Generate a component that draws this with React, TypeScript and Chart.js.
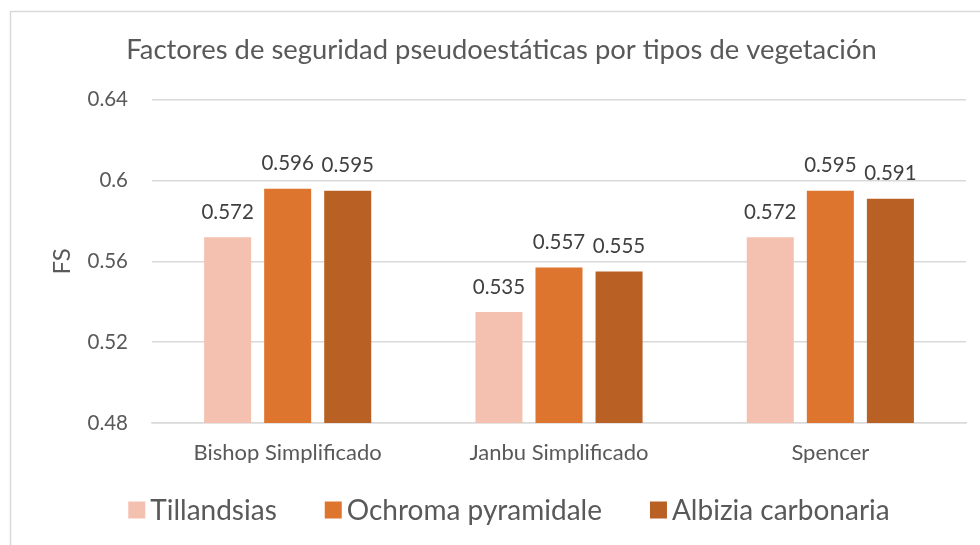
import React, { useEffect, useRef } from "react";
import { Chart, registerables } from "chart.js";

Chart.register(...registerables);

const categories = ["Bishop Simplificado", "Janbu Simplificado", "Spencer"];
const seriesNames = ["Tillandsias", "Ochroma pyramidale", "Albizia carbonaria"];
const tillandsias = [0.572, 0.535, 0.572];
const ochroma = [0.596, 0.557, 0.595];
const albizia = [0.595, 0.555, 0.591];
const seriesColors = ["#F4C1B1", "#DE752E", "#B96124"];
const yTicks = [0.48, 0.52, 0.56, 0.6, 0.64];
const yTitle = "FS";

const FONT = "Lato, 'Open Sans', sans-serif";
const TEXT = "#595959";

const labelPlugin = {
  id: "barLabels",
  afterDatasetsDraw(chart: any) {
    const ctx = chart.ctx;
    ctx.save();
    ctx.font = `20.5px ${FONT}`;
    ctx.fillStyle = "#404040";
    ctx.textAlign = "center";
    ctx.textBaseline = "middle";
    chart.data.datasets.forEach((ds: any, i: number) => {
      const meta = chart.getDatasetMeta(i);
      meta.data.forEach((el: any, j: number) => {
        const v = ds.data[j];
        ctx.fillText(v.toFixed(3), el.x, el.y - 25);
      });
    });
    ctx.restore();
  },
};

const decorPlugin = {
  id: "decor",
  beforeDraw(chart: any) {
    const ctx = chart.ctx;
    ctx.save();
    ctx.fillStyle = "#ffffff";
    ctx.fillRect(0, 0, chart.width, chart.height);
    ctx.strokeStyle = "#d9d9d9";
    ctx.lineWidth = 1.5;
    ctx.beginPath();
    ctx.moveTo(10.5, chart.height + 5);
    ctx.lineTo(10.5, 11.5);
    ctx.lineTo(chart.width + 5, 11.5);
    ctx.stroke();
    ctx.restore();
  },
  afterDraw(chart: any) {
    const ctx = chart.ctx;
    const area = chart.chartArea;
    ctx.save();
    // y-axis title
    ctx.font = `24px ${FONT}`;
    ctx.fillStyle = TEXT;
    ctx.textAlign = "center";
    ctx.textBaseline = "middle";
    ctx.translate(62, (area.top + area.bottom) / 2);
    ctx.rotate(-Math.PI / 2);
    ctx.fillText(yTitle, 0, 0);
    ctx.restore();

    // legend
    ctx.save();
    ctx.font = `28px ${FONT}`;
    ctx.textBaseline = "middle";
    ctx.textAlign = "left";
    const box = 17;
    const gapBox = 5;
    const gapItem = 48;
    const items = chart.data.datasets.map((ds: any) => ({
      text: ds.label,
      color: ds.backgroundColor,
      w: ctx.measureText(ds.label).width,
    }));
    const total =
      items.reduce((s: number, it: any) => s + box + gapBox + it.w, 0) +
      gapItem * (items.length - 1);
    let x = 509 - total / 2;
    const y = 510;
    items.forEach((it: any) => {
      ctx.fillStyle = it.color;
      ctx.fillRect(x, y - box / 2, box, box);
      ctx.fillStyle = TEXT;
      ctx.fillText(it.text, x + box + gapBox, y + 1);
      x += box + gapBox + it.w + gapItem;
    });
    ctx.restore();
  },
};

export default function App() {
  const ref = useRef<HTMLCanvasElement>(null);
  useEffect(() => {
    if (!ref.current) return;
    const chart = new Chart(ref.current, {
      type: "bar",
      data: {
        labels: categories,
        datasets: [tillandsias, ochroma, albizia].map((d, i) => ({
          label: seriesNames[i],
          data: d,
          backgroundColor: seriesColors[i],
          categoryPercentage: 0.664,
          barPercentage: 0.783,
        })),
      },
      options: {
        animation: false,
        responsive: false,
        layout: { padding: { left: 37, right: 14, top: 0, bottom: 82 } },
        plugins: {
          title: {
            display: true,
            text: "Factores de seguridad pseudoestáticas por tipos de vegetación",
            color: TEXT,
            font: { family: FONT, size: 27.4, weight: "normal" },
            padding: { top: 34, bottom: 33 },
          },
          legend: { display: false },
          tooltip: { enabled: false },
        },
        scales: {
          x: {
            grid: { display: false },
            border: { display: true, color: "#d9d9d9", width: 1.5 },
            ticks: {
              color: TEXT,
              font: { family: FONT, size: 22 },
              padding: 9,
            },
            afterFit(axis: any) {
              axis.height = 40;
            },
          },
          y: {
            min: 0.48,
            max: 0.64,
            afterBuildTicks(axis: any) {
              axis.ticks = yTicks.map((v) => ({ value: v }));
            },
            afterFit(axis: any) {
              axis.width = 115;
            },
            grid: { color: "#d9d9d9", lineWidth: 1.5, drawTicks: false },
            border: { display: false },
            ticks: {
              color: TEXT,
              font: { family: FONT, size: 20.5 },
              padding: 24,
              callback: (v: any) => String(Number(v)),
            },
          },
        },
      },
      plugins: [decorPlugin, labelPlugin],
    });
    return () => chart.destroy();
  }, []);
  return (
    <div style={{ position: "fixed", left: 0, top: 0, width: 980, height: 545 }}>
      <canvas ref={ref} width={980} height={545} style={{ width: 980, height: 545 }} />
    </div>
  );
}
